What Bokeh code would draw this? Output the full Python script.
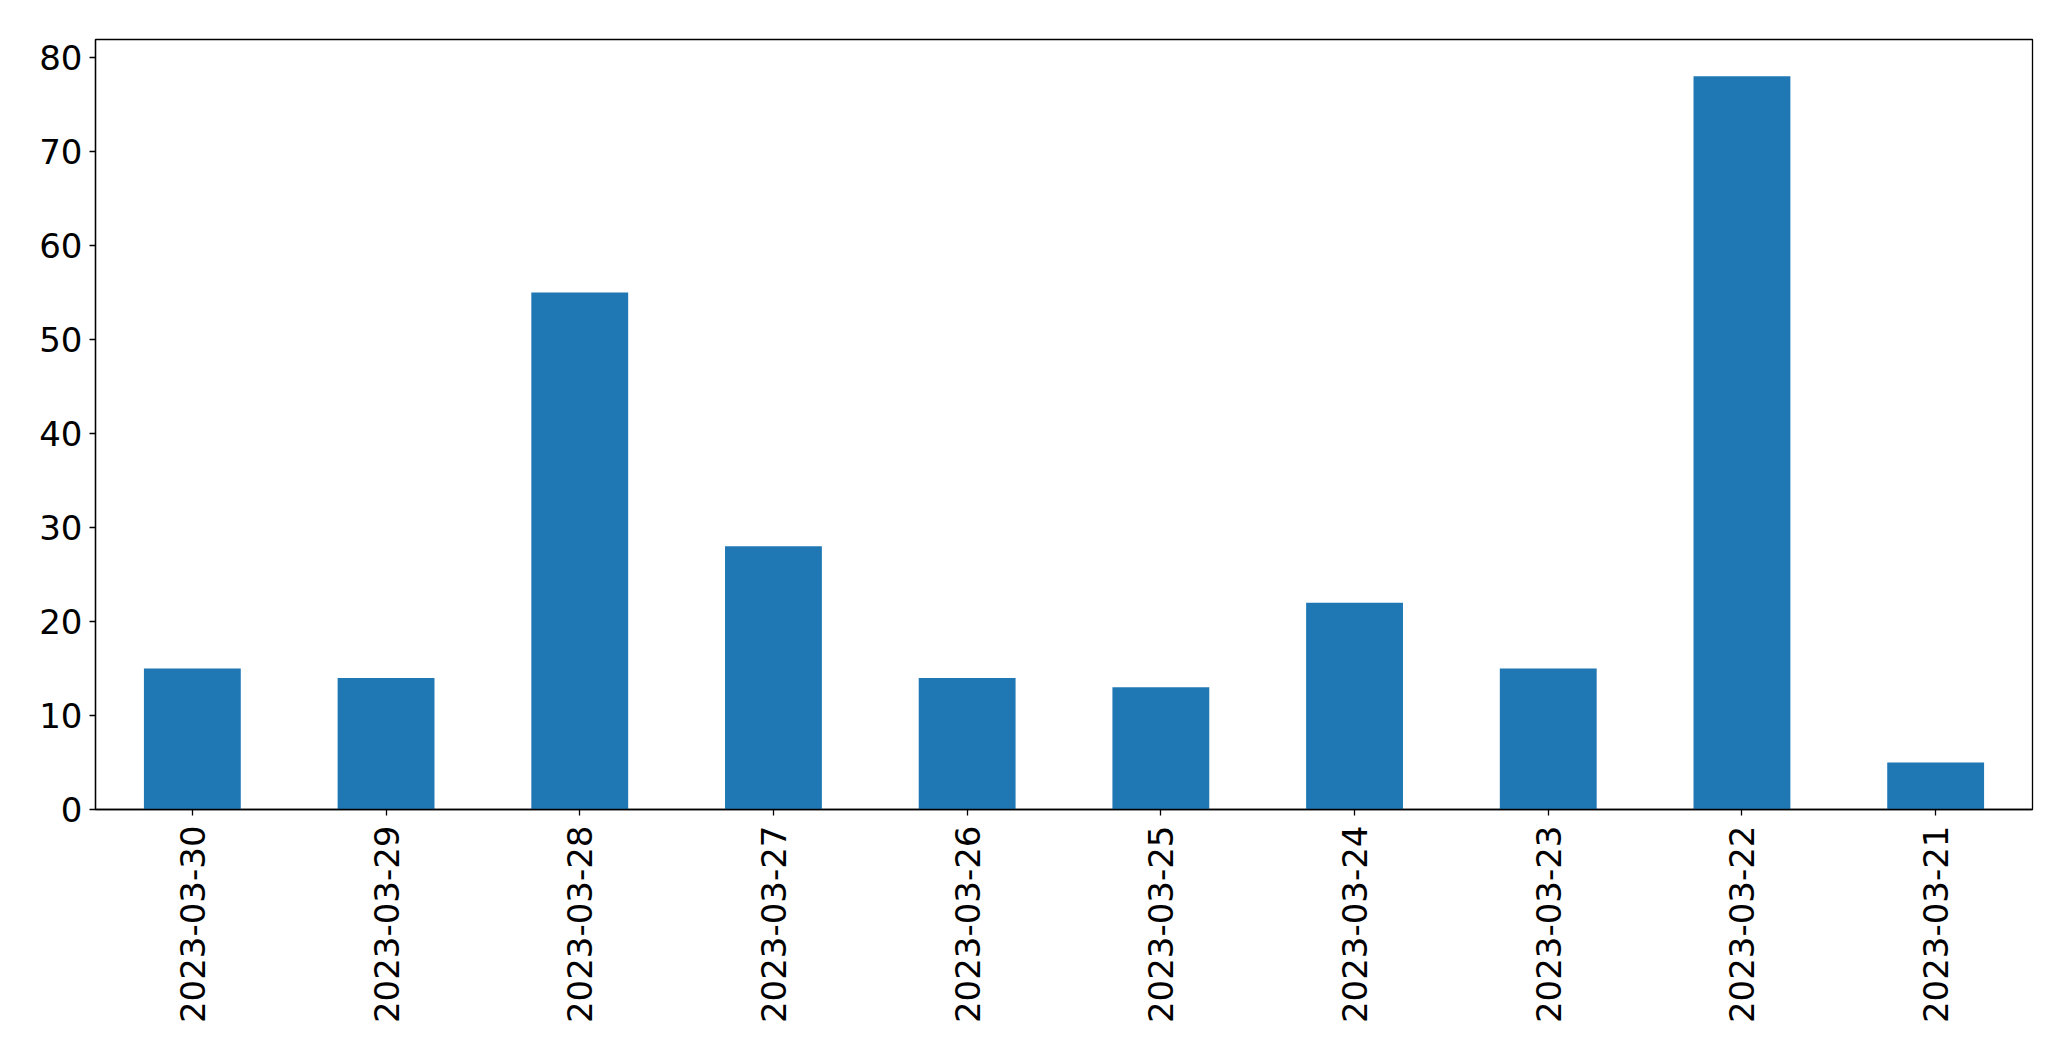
import math
from bokeh.plotting import figure
from bokeh.models import FactorRange, Range1d, FixedTicker
from bokeh.embed import file_html
from bokeh.resources import INLINE

dates = ["2023-03-30", "2023-03-29", "2023-03-28", "2023-03-27", "2023-03-26",
         "2023-03-25", "2023-03-24", "2023-03-23", "2023-03-22", "2023-03-21"]
counts = [15, 14, 55, 28, 14, 13, 22, 15, 78, 5]
y_ticks = [0, 10, 20, 30, 40, 50, 60, 70, 80]

p = figure(
    x_range=FactorRange(*dates, range_padding=0),
    y_range=Range1d(0, max(counts) * 1.05),
    frame_width=1937, frame_height=770,
    min_border_left=95, min_border_top=39, min_border_right=39, min_border_bottom=236,
    output_backend="svg", toolbar_location=None,
    background_fill_color="white", border_fill_color="white",
)

p.vbar(x=dates, top=counts, width=0.5, fill_color="#1f77b4", line_color=None)

p.outline_line_color = "black"
p.outline_line_width = 1.3
p.xgrid.visible = False
p.ygrid.visible = False

for ax in (p.xaxis[0], p.yaxis[0]):
    ax.axis_line_color = "black"
    ax.axis_line_width = 1.3
    ax.major_tick_line_color = "black"
    ax.major_tick_line_width = 1.3
    ax.major_tick_in = 0
    ax.major_tick_out = 6
    ax.minor_tick_line_color = None
    ax.major_label_text_font = "DejaVu Sans"
    ax.major_label_text_font_size = "34px"
    ax.major_label_text_color = "black"

p.yaxis[0].ticker = FixedTicker(ticks=y_ticks)
p.yaxis[0].major_label_standoff = 7
p.xaxis[0].major_label_orientation = math.pi / 2
p.xaxis[0].major_label_standoff = 10

open("out.html", "w").write(file_html(p, INLINE))
